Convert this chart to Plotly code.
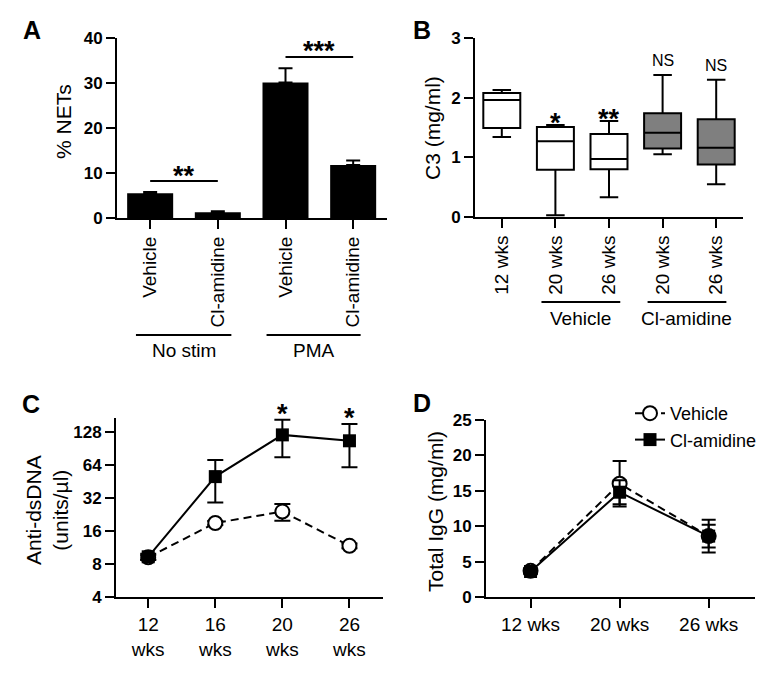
import numpy as np
import plotly.graph_objects as go

FONT = "Arial, Liberation Sans, Helvetica, sans-serif"
# the page body keeps its default 8px margin, so the figure is drawn 8px in
PAD = 8
W, H = 774 - PAD, 674 - PAD

# ─── Panel A: % NETs ─────────────────────────────────────────
a_labels = ["Vehicle", "Cl-amidine", "Vehicle", "Cl-amidine"]
a_nets = [5.5, 1.3, 30.1, 11.8]
a_sem = [0.3, 0.2, 3.2, 1.0]
a_groups = ["No stim", "PMA"]

# ─── Panel B: C3 boxes ───────────────────────────────────────
b_labels = ["12 wks", "20 wks", "26 wks", "20 wks", "26 wks"]
b_min = [1.34, 0.03, 0.33, 1.05, 0.55]
b_q1 = [1.49, 0.79, 0.80, 1.15, 0.88]
b_med = [1.96, 1.27, 0.97, 1.41, 1.16]
b_q3 = [2.08, 1.51, 1.39, 1.74, 1.64]
b_max = [2.13, 1.54, 1.61, 2.38, 2.30]
b_sig = ["", "*", "**", "NS", "NS"]
b_groups = ["Vehicle", "Cl-amidine"]

# ─── Panel C: anti-dsDNA ─────────────────────────────────────
c_weeks = ["12<br>wks", "16<br>wks", "20<br>wks", "26<br>wks"]
c_veh = [9.2, 18.9, 24.0, 11.7]
c_veh_sem = [0.4, 0.8, 4.2, 0.6]
c_cl = [9.3, 50.0, 120.0, 106.0]
c_cl_sem = [0.6, 21.0, 45.0, 45.0]
c_ticks = [4, 8, 16, 32, 64, 128]

# ─── Panel D: total IgG ──────────────────────────────────────
d_weeks = ["12 wks", "20 wks", "26 wks"]
d_veh = [3.7, 16.0, 8.6]
d_veh_sem = [0.4, 3.2, 1.6]
d_cl = [3.6, 14.8, 8.6]
d_cl_sem = [0.4, 1.7, 2.3]


def px(x):
    return (x - PAD) / W


def py(y):
    return 1 - (y - PAD) / H


def base_x(dom, rng, ticktext, **kw):
    d = dict(domain=[px(dom[0]), px(dom[1])], range=rng, automargin=False,
             tickvals=list(range(len(ticktext))), ticktext=ticktext,
             showline=True, linecolor="black", linewidth=2,
             ticks="outside", ticklen=9, tickwidth=2, tickcolor="black",
             showgrid=False, zeroline=False,
             tickfont=dict(family=FONT, size=19, color="black"))
    d.update(kw)
    return d


def base_y(dom, **kw):
    d = dict(domain=[py(dom[1]), py(dom[0])], automargin=False,
             showline=True, linecolor="black", linewidth=2,
             ticks="outside", ticklen=9, tickwidth=2, tickcolor="black",
             showgrid=False, zeroline=False,
             tickfont=dict(family=FONT, size=17, color="black", weight="bold"))
    d.update(kw)
    return d


fig = go.Figure()

# A: bars
fig.add_trace(go.Bar(
    x=list(range(len(a_nets))), y=a_nets, width=0.68,
    marker=dict(color="black", line_width=0),
    error_y=dict(type="data", symmetric=False, array=a_sem,
                 arrayminus=[0] * len(a_sem), color="black", thickness=2, width=7),
    xaxis="x", yaxis="y", showlegend=False))

# B: boxes
for i in range(len(b_q1)):
    fig.add_trace(go.Box(
        x=[i], q1=[b_q1[i]], median=[b_med[i]], q3=[b_q3[i]],
        lowerfence=[b_min[i]], upperfence=[b_max[i]],
        fillcolor="white" if i < 3 else "#7f7f7f",
        line=dict(color="black", width=2), width=0.69, whiskerwidth=0.5,
        boxpoints=False, xaxis="x2", yaxis="y2", showlegend=False))

# C + D: lines
veh_style = dict(mode="lines+markers", line=dict(color="black", width=2, dash="8px,5px"),
                 marker=dict(symbol="circle", size=14, color="white",
                             line=dict(color="black", width=2)))
cl_style = dict(mode="lines+markers", line=dict(color="black", width=2),
                marker=dict(symbol="square", size=13, color="black"))

fig.add_trace(go.Scatter(x=list(range(len(c_veh))), y=c_veh, name="Vehicle",
                         error_y=dict(type="data", array=c_veh_sem, color="black", thickness=2, width=8),
                         xaxis="x3", yaxis="y3", showlegend=False, **veh_style))
fig.add_trace(go.Scatter(x=list(range(len(c_cl))), y=c_cl, name="Cl-amidine",
                         error_y=dict(type="data", array=c_cl_sem, color="black", thickness=2, width=8),
                         xaxis="x3", yaxis="y3", showlegend=False, **cl_style))
fig.add_trace(go.Scatter(x=list(range(len(d_veh))), y=d_veh, name="Vehicle",
                         error_y=dict(type="data", array=d_veh_sem, color="black", thickness=2, width=7),
                         xaxis="x4", yaxis="y4", **veh_style))
fig.add_trace(go.Scatter(x=list(range(len(d_cl))), y=d_cl, name="Cl-amidine",
                         error_y=dict(type="data", array=d_cl_sem, color="black", thickness=2, width=7),
                         xaxis="x4", yaxis="y4", **cl_style))

fig.update_layout(
    width=W, height=H, margin=dict(l=0, r=0, t=0, b=0, autoexpand=False),
    paper_bgcolor="white", plot_bgcolor="white",
    font=dict(family=FONT, color="black"),
    boxmode="overlay",
    xaxis=base_x((117, 387), [-0.49, 3.5], a_labels, tickangle=-90),
    yaxis=base_y((38, 218), range=[0, 40], dtick=10, anchor="x"),
    xaxis2=base_x((475, 743), [-0.5, 4.5], b_labels, tickangle=-90, anchor="y2"),
    yaxis2=base_y((38, 217), range=[0, 3], dtick=1, anchor="x2"),
    xaxis3=base_x((116, 383), [-0.48, 3.5], c_weeks, tickangle=0, anchor="y3"),
    yaxis3=base_y((418, 597), type="log", range=[np.log10(4), np.log10(171)],
                  tickvals=c_ticks, ticktext=[str(t) for t in c_ticks], anchor="x3"),
    xaxis4=base_x((486, 755), [-0.5, 2.52], d_weeks, tickangle=0, anchor="y4"),
    yaxis4=base_y((420, 597), range=[0, 25], dtick=5, anchor="x4"),
    legend=dict(x=px(630), y=py(395), xanchor="left", yanchor="top",
                font=dict(family=FONT, size=18), bgcolor="rgba(0,0,0,0)",
                tracegroupgap=0, itemwidth=30),
)

ann = []


def text(x, y, s, size=19, bold=False, angle=0, xref="paper", yref="paper"):
    ann.append(dict(x=x, y=y, xref=xref, yref=yref, text=s, showarrow=False,
                    textangle=angle, xanchor="center", yanchor="middle",
                    font=dict(family=FONT, size=size, color="black",
                              weight="bold" if bold else "normal")))


# panel letters
for letter, (lx, ly) in zip("ABCD", [(32, 30), (422, 30), (31, 404), (422, 403)]):
    text(px(lx), py(ly), letter, size=25, bold=True)

# axis titles
text(px(63), py(122), "% NETs", size=21, angle=-90)
text(px(433), py(128), "C3 (mg/ml)", size=21, angle=-90)
text(px(47), py(510), "Anti-dsDNA<br>(units/µl)", size=21, angle=-90)
text(px(435), py(511), "Total IgG (mg/ml)", size=21, angle=-90)

shapes = []

# A: group lines and labels
for g, (x0, x1) in zip(a_groups, [(-0.21, 1.2), (1.72, 3.11)]):
    shapes.append(dict(type="line", xref="x", yref="paper", x0=x0, x1=x1,
                       y0=py(335), y1=py(335), line=dict(color="black", width=2)))
    text((x0 + x1) / 2, py(350), g, size=19, xref="x")

# A: significance bars
for (x0, x1), yv, s in zip([(0, 1), (2, 3)], [8.2, 35.8], ["**", "***"]):
    shapes.append(dict(type="line", xref="x", yref="y", x0=x0, x1=x1, y0=yv, y1=yv,
                       line=dict(color="black", width=2)))
    text((x0 + x1) / 2, yv + 1.2, s, size=27, bold=True, xref="x", yref="y")

# B: group lines and labels
for g, (x0, x1) in zip(b_groups, [(0.74, 2.21), (2.72, 4.19)]):
    shapes.append(dict(type="line", xref="x2", yref="paper", x0=x0, x1=x1,
                       y0=py(302), y1=py(302), line=dict(color="black", width=2)))
    text((x0 + x1) / 2, py(318), g, size=19, xref="x2")

# B: significance marks above whiskers
for i, s in enumerate(b_sig):
    if not s:
        continue
    if s == "NS":
        text(i, b_max[i] + 0.24, s, size=16, xref="x2", yref="y2")
    else:
        text(i, b_max[i] + 0.04, s, size=27, bold=True, xref="x2", yref="y2")

# C: stars above 20 and 26 wks (paper coords: they sit above the axis top)
for i, sy in zip([2, 3], [414, 418]):
    ann.append(dict(x=i, y=py(sy), xref="x3", yref="paper", text="*", showarrow=False,
                    xanchor="center", yanchor="middle",
                    font=dict(family=FONT, size=27, color="black", weight="bold")))

fig.update_layout(annotations=ann, shapes=shapes)

fig.write_html("out.html")
